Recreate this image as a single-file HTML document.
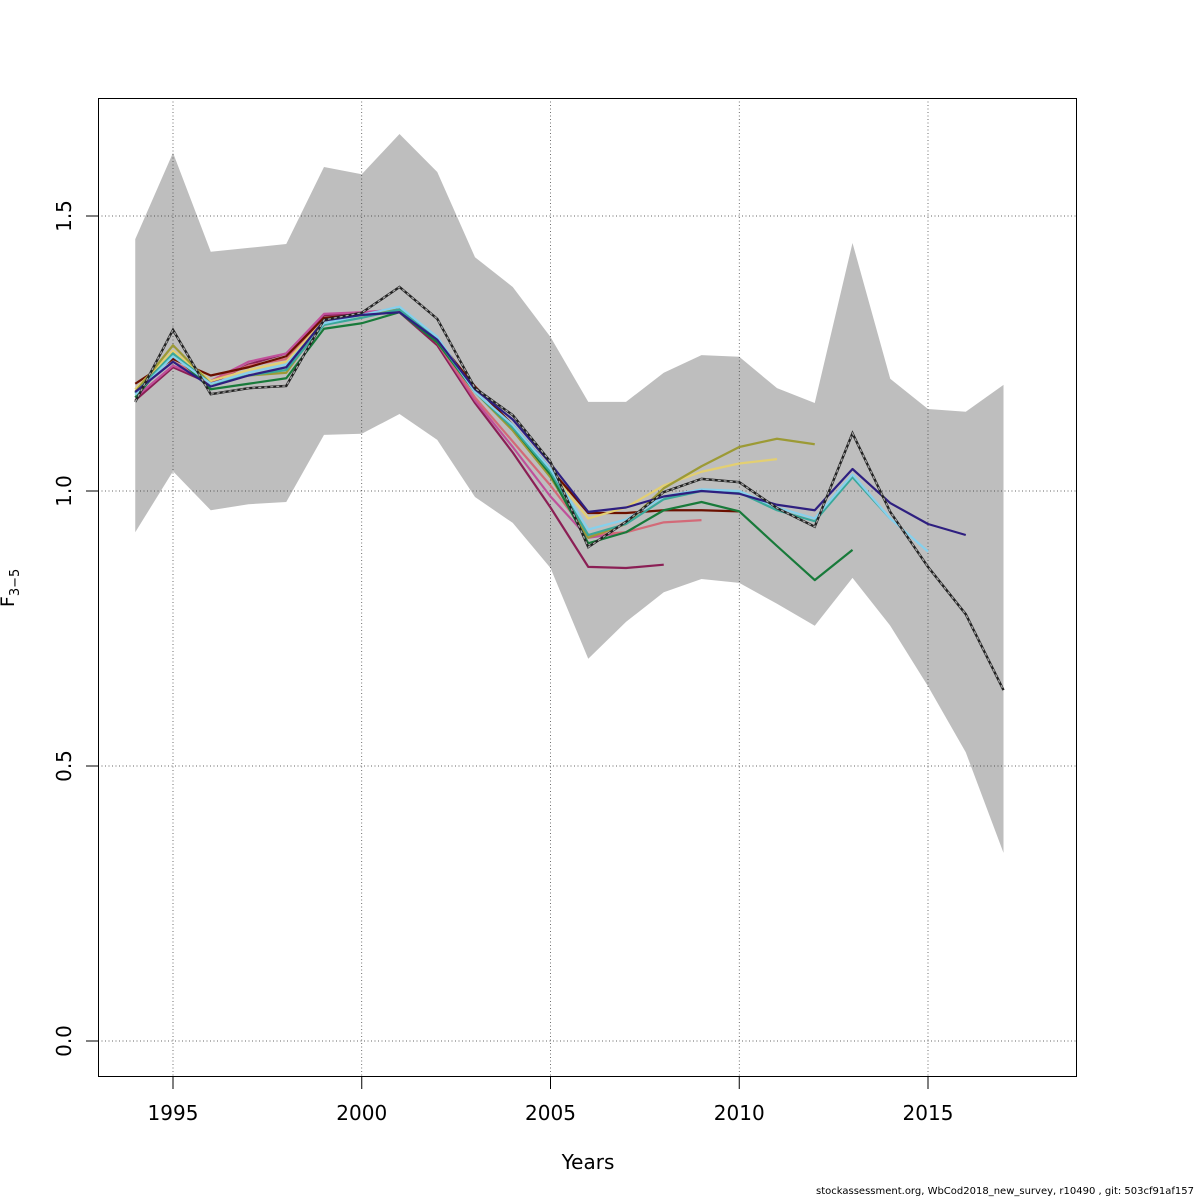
<!DOCTYPE html>
<html><head><meta charset="utf-8"><style>
html,body{margin:0;background:#fff;font-family:"Liberation Sans","DejaVu Sans",sans-serif;width:1200px;height:1200px;overflow:hidden;position:relative}
svg{display:block}
svg text{font-family:"DejaVu Sans","Liberation Sans",sans-serif}
</style></head><body>
<svg id="c" width="1200" height="1200" xmlns="http://www.w3.org/2000/svg"></svg>
<script>
const years=[1994,1995,1996,1997,1998,1999,2000,2001,2002,2003,2004,2005,2006,2007,2008,2009,2010,2011,2012,2013,2014,2015,2016,2017];
const baseF=[1.162,1.293,1.176,1.187,1.191,1.311,1.324,1.371,1.313,1.187,1.138,1.053,0.898,0.944,0.998,1.022,1.016,0.969,0.935,1.105,0.962,0.862,0.776,0.638];
const upperF=[1.458,1.615,1.435,1.442,1.449,1.589,1.576,1.649,1.580,1.425,1.371,1.280,1.162,1.162,1.215,1.247,1.244,1.187,1.160,1.451,1.204,1.149,1.144,1.193];
const lowerF=[0.925,1.036,0.965,0.976,0.980,1.102,1.104,1.140,1.093,0.989,0.942,0.860,0.695,0.762,0.816,0.840,0.833,0.795,0.755,0.842,0.755,0.645,0.525,0.342];
const peelNavy=[1.18,1.235,1.19,1.21,1.225,1.31,1.32,1.325,1.275,1.185,1.13,1.05,0.962,0.97,0.99,1.0,0.995,0.975,0.965,1.04,0.978,0.94,0.92];
const peelSky=[1.175,1.245,1.195,1.215,1.23,1.305,1.32,1.335,1.28,1.18,1.12,1.04,0.93,0.948,0.99,1.003,1.0,0.97,0.95,1.03,0.95,0.89];
const peelTeal=[1.178,1.25,1.195,1.21,1.22,1.302,1.315,1.33,1.275,1.18,1.115,1.035,0.92,0.94,0.985,1.0,0.997,0.965,0.945,1.025,0.95];
const peelGreen=[1.17,1.25,1.185,1.195,1.205,1.295,1.305,1.325,1.27,1.18,1.115,1.03,0.905,0.925,0.965,0.98,0.963,0.90,0.838,0.893];
const peelOlive=[1.18,1.265,1.195,1.21,1.215,1.31,1.32,1.33,1.27,1.18,1.11,1.025,0.915,0.94,1.005,1.045,1.08,1.095,1.085];
const peelKhaki=[1.185,1.255,1.2,1.22,1.235,1.31,1.318,1.33,1.27,1.18,1.115,1.035,0.95,0.97,1.01,1.035,1.05,1.058];
const peelDarkred=[1.195,1.24,1.21,1.225,1.245,1.315,1.32,1.33,1.275,1.19,1.12,1.04,0.96,0.96,0.965,0.965,0.963];
const peelSalmon=[1.18,1.235,1.2,1.228,1.24,1.31,1.32,1.33,1.27,1.17,1.09,1.01,0.92,0.925,0.943,0.947];
const peelMagenta=[1.17,1.228,1.2,1.235,1.25,1.322,1.325,1.33,1.27,1.165,1.08,0.99,0.915,0.925];
const peelPlum=[1.165,1.225,1.195,1.23,1.25,1.32,1.322,1.325,1.265,1.16,1.07,0.97,0.862,0.86,0.866];
const xTicks=[1995,2000,2005,2010,2015];
const yTicks=[0,0.5,1.0,1.5];
const yTickLabels=["0.0","0.5","1.0","1.5"];

const svg=document.getElementById('c');const NS="http://www.w3.org/2000/svg";
const X=y=>173+(y-1995)*37.75, Y=v=>1041-v*550;
function mk(t,a,p){const e=document.createElementNS(NS,t);for(const k in a)e.setAttribute(k,a[k]);(p||svg).appendChild(e);return e;}
let pts=years.map((y,i)=>X(y)+','+Y(upperF[i])).concat(years.slice().reverse().map((y,i)=>X(y)+','+Y(lowerF[years.length-1-i])));
const band=mk('polygon',{points:pts.join(' '),fill:'#bebebe'});


xTicks.forEach(t=>{const g=mk('line',{x1:X(t),x2:X(t),y1:98,y2:1077,stroke:'#333','stroke-width':0.7,'stroke-dasharray':'1,2.5'});

});
yTicks.forEach(t=>{const g=mk('line',{x1:98,x2:1077,y1:Y(t),y2:Y(t),stroke:'#333','stroke-width':0.7,'stroke-dasharray':'1,2.5'});

});
function line(vals,col,name,w){const d=vals.map((v,i)=>X(years[i])+','+Y(v)).join(' ');const l=mk('polyline',{points:d,fill:'none',stroke:col,'stroke-width':w||2.2,'stroke-linejoin':'round'});

return d;}
line(peelPlum,'#8b1f55','peel-2008');
line(peelMagenta,'#c0509a','peel-2007');
line(peelSalmon,'#d36a78','peel-2009');
line(peelDarkred,'#6b1000','peel-2010');
line(peelKhaki,'#e3cf72','peel-2011');
line(peelOlive,'#9c9a35','peel-2012');
line(peelGreen,'#187a3a','peel-2013');
line(peelTeal,'#3aa89a','peel-2014');
line(peelSky,'#86d0ec','peel-2015');
line(peelNavy,'#2e1f80','peel-2016');
const bd=baseF.map((v,i)=>X(years[i])+','+Y(v)).join(' ');
const b1=mk('polyline',{points:bd,fill:'none',stroke:'#222','stroke-width':2.4});


const b2=mk('polyline',{points:bd,fill:'none',stroke:'#aaa','stroke-width':1.2,'stroke-dasharray':'3,3'});


const fr=mk('rect',{x:98.5,y:98.5,width:978,height:978,fill:'none',stroke:'#000','stroke-width':1});


xTicks.forEach(t=>{mk('line',{x1:X(t),x2:X(t),y1:1077,y2:1089,stroke:'#000'});
const tx=mk('text',{x:X(t),y:1120,'font-size':20,'text-anchor':'middle'});tx.textContent=t;

});
yTicks.forEach((t,i)=>{mk('line',{x1:86,x2:98,y1:Y(t),y2:Y(t),stroke:'#000'});
const tx=mk('text',{x:0,y:0,'font-size':20,'text-anchor':'middle',transform:`translate(71,${Y(t)}) rotate(-90)`});tx.textContent=yTickLabels[i];

});
</script>
<div style="position:absolute;left:0;width:1176px;text-align:center;top:1150px;font-size:20px;font-family:'DejaVu Sans',sans-serif">Years</div>
<div style="position:absolute;left:-20px;top:575px;transform:rotate(-90deg);font-size:19px;font-family:'DejaVu Sans',sans-serif;width:60px;text-align:center"><span style="text-decoration:overline">F</span><sub style="font-size:13px">3−5</sub></div>
<div style="position:absolute;right:6px;top:1186px;font-size:10px;line-height:11px;font-family:'DejaVu Sans',sans-serif;white-space:nowrap">stockassessment.org, WbCod2018_new_survey, r10490 , git: 503cf91af157</div>
</body></html>
